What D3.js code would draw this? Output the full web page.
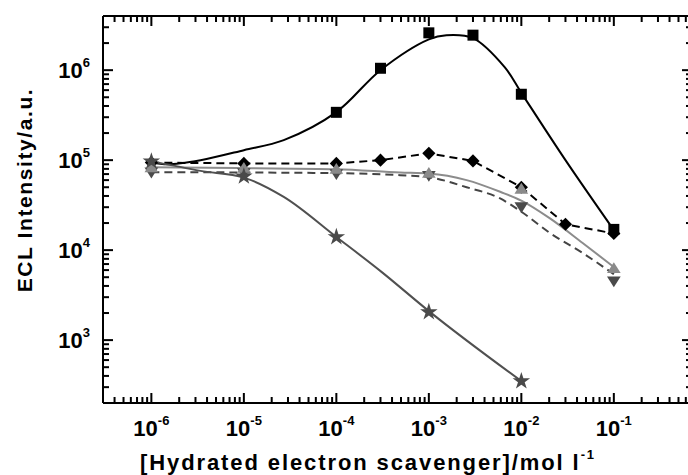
<!DOCTYPE html>
<html>
<head>
<meta charset="utf-8">
<script src="https://cdn.jsdelivr.net/npm/d3@7"></script>
<style>
  html, body { margin: 0; padding: 0; background: #fff; }
  svg { display: block; }
  text { font-family: "Liberation Sans", Arial, Helvetica, sans-serif; font-weight: bold; fill: #000; }
</style>
</head>
<body>
<svg id="chart" width="688" height="475"></svg>
<script>
// ---------------- data ----------------
const xTickExps = [-6, -5, -4, -3, -2, -1];
const yTickExps = [3, 4, 5, 6];

// black squares + solid black fitted curve
const sqX = [1e-4, 3e-4, 1e-3, 3e-3, 1e-2, 1e-1];
const sqY = [3.4e5, 1.05e6, 2.6e6, 2.45e6, 5.4e5, 1.7e4];
const sqFitX = [1e-6, 1.5e-6, 3.4e-6, 1e-5, 2.7e-5, 1e-4, 3e-4, 1e-3, 1.55e-3, 3e-3, 6.6e-3, 1e-2, 3e-2, 1e-1];
const sqFitY = [9.5e4, 9.0e4, 1.0e5, 1.29e5, 1.67e5, 3.42e5, 1.0e6, 2.2e6, 2.45e6, 2.27e6, 1.08e6, 5.6e5, 1.0e5, 1.67e4];

// black diamonds + dashed black line
const dmX = [1e-6, 1e-5, 1e-4, 3e-4, 1e-3, 3e-3, 1e-2, 3e-2, 1e-1];
const dmY = [9.4e4, 9.2e4, 9.2e4, 1.0e5, 1.19e5, 9.8e4, 5.0e4, 1.94e4, 1.53e4];

// grey up-triangles + solid grey fitted curve
const upX = [1e-6, 1e-5, 1e-4, 1e-3, 1e-2, 1e-1];
const upY = [8.3e4, 8.2e4, 8.0e4, 7.2e4, 4.8e4, 6.3e3];
const upFitX = [1e-6, 1e-5, 1e-4, 4.9e-4, 1e-3, 2.56e-3, 5.9e-3, 1e-2, 2.04e-2, 4.6e-2, 1e-1];
const upFitY = [8.36e4, 8.15e4, 7.94e4, 7.3e4, 7.1e4, 6.0e4, 4.45e4, 3.55e4, 2.25e4, 1.2e4, 6.5e3];

// dark grey down-triangles + dashed dark grey fitted curve
const dnX = [1e-6, 1e-5, 1e-4, 1e-3, 1e-2, 1e-1];
const dnY = [7.3e4, 7.2e4, 7.0e4, 6.7e4, 3.0e4, 4.5e3];
const dnFitX = [1e-6, 1e-4, 4.9e-4, 1e-3, 2.56e-3, 5.9e-3, 1e-2, 2.04e-2, 4.6e-2, 1e-1];
const dnFitY = [7.36e4, 7.17e4, 6.8e4, 6.47e4, 5.0e4, 3.75e4, 2.67e4, 1.55e4, 9.3e3, 5.4e3];

// dark grey stars + solid dark grey fitted curve
const stX = [1e-6, 1e-5, 1e-4, 1e-3, 1e-2];
const stY = [9.7e4, 6.6e4, 1.4e4, 2.05e3, 350];
const stFitX = [1e-6, 3.4e-6, 1e-5, 2.7e-5, 1e-4, 3.1e-4, 1e-3, 1e-2];
const stFitY = [9.75e4, 7.6e4, 6.4e4, 3.9e4, 1.4e4, 5.7e3, 2.1e3, 350];

// ---------------- layout ----------------
const svg = d3.select("#chart");
svg.append("rect").attr("width", 688).attr("height", 475).attr("fill", "#fff");

const L = 103, R = 692, T = 16, B = 403;
const x = d3.scaleLog().domain([3e-7, 0.7]).range([L, R]);
const y = d3.scaleLog().domain([200, 4e6]).range([B, T]);

// frame
svg.append("line").attr("x1", L).attr("x2", R).attr("y1", B).attr("y2", B).attr("stroke", "#000").attr("stroke-width", 2);
svg.append("line").attr("x1", L).attr("x2", R).attr("y1", T).attr("y2", T).attr("stroke", "#000").attr("stroke-width", 2);
svg.append("line").attr("x1", L).attr("x2", L).attr("y1", T).attr("y2", B).attr("stroke", "#000").attr("stroke-width", 2);
svg.append("line").attr("x1", R).attr("x2", R).attr("y1", T).attr("y2", B).attr("stroke", "#000").attr("stroke-width", 2);

// tick labels
xTickExps.forEach(e => {
  const t = svg.append("text").attr("x", x(Math.pow(10, e))).attr("y", 436)
    .attr("text-anchor", "middle").attr("font-size", 22);
  t.append("tspan").text("10");
  t.append("tspan").attr("dy", -11).attr("font-size", 13).text(String(e));
});
yTickExps.forEach(e => {
  const t = svg.append("text").attr("x", 90).attr("y", y(Math.pow(10, e)) + 8)
    .attr("text-anchor", "end").attr("font-size", 22);
  t.append("tspan").text("10");
  t.append("tspan").attr("dy", -11).attr("font-size", 13).text(String(e));
});

// axis titles
const xt1 = svg.append("text").attr("x", 368).attr("y", 470).attr("text-anchor", "middle")
  .attr("font-size", 22).attr("letter-spacing", 1.9);
xt1.append("tspan").text("[Hydrated electron scavenger]/mol l");
xt1.append("tspan").attr("dy", -11).attr("font-size", 13).text("-1");

svg.append("text").attr("transform", "translate(32,190) rotate(-90)")
  .attr("text-anchor", "middle").attr("font-size", 21).attr("letter-spacing", 1.6)
  .text("ECL Intensity/a.u.");

// ---------------- lines ----------------
const lineGen = d3.line().x(d => x(d[0])).y(d => y(d[1])).curve(d3.curveMonotoneX);
const smoothGen = d3.line().x(d => x(d[0])).y(d => y(d[1])).curve(d3.curveCatmullRom.alpha(0.5));
const zip = (a, b) => a.map((v, i) => [v, b[i]]);

const plot = svg.append("g");
plot.append("path").attr("d", smoothGen(zip(sqFitX, sqFitY)))
  .attr("fill", "none").attr("stroke", "#000").attr("stroke-width", 2);
plot.append("path").attr("d", d3.line().x(d => x(d[0])).y(d => y(d[1]))(zip(dmX, dmY)))
  .attr("fill", "none").attr("stroke", "#000").attr("stroke-width", 2).attr("stroke-dasharray", "8,5");
plot.append("path").attr("d", lineGen(zip(upFitX, upFitY)))
  .attr("fill", "none").attr("stroke", "#8c8c8c").attr("stroke-width", 2);
plot.append("path").attr("d", lineGen(zip(dnFitX, dnFitY)))
  .attr("fill", "none").attr("stroke", "#444").attr("stroke-width", 2).attr("stroke-dasharray", "8,5");
plot.append("path").attr("d", lineGen(zip(stFitX, stFitY)))
  .attr("fill", "none").attr("stroke", "#505050").attr("stroke-width", 2);

// ---------------- markers ----------------
const triUp = { draw(ctx, s) { const r = Math.sqrt(s) / 2; ctx.moveTo(0, -r * 1.05); ctx.lineTo(r * 1.2, r * 0.85); ctx.lineTo(-r * 1.2, r * 0.85); ctx.closePath(); } };
const triDn = { draw(ctx, s) { const r = Math.sqrt(s) / 2; ctx.moveTo(0, r * 1.05); ctx.lineTo(r * 1.2, -r * 0.85); ctx.lineTo(-r * 1.2, -r * 0.85); ctx.closePath(); } };
const diam = { draw(ctx, s) { const r = Math.sqrt(s) / 2; ctx.moveTo(0, -r * 1.2); ctx.lineTo(r * 1.2, 0); ctx.lineTo(0, r * 1.2); ctx.lineTo(-r * 1.2, 0); ctx.closePath(); } };

function markers(xs, ys, type, size, color) {
  plot.append("g").selectAll("path").data(zip(xs, ys)).join("path")
    .attr("transform", d => `translate(${x(d[0])},${y(d[1])})`)
    .attr("d", d3.symbol().type(type).size(size))
    .attr("fill", color);
}
markers(dmX, dmY, diam, 121, "#000");
markers(sqX, sqY, d3.symbolSquare, 121, "#000");
markers(dnX, dnY, triDn, 130, "#4a4a4a");
markers(upX, upY, triUp, 130, "#8a8a8a");
markers(stX, stY, d3.symbolStar, 95, "#4a4a4a");

// ---------------- ticks (drawn last, inward, on all four sides) ----------------
const MAJ = 10, MIN = 6, TW = 2;
const decX = [1e-7, 1e-6, 1e-5, 1e-4, 1e-3, 1e-2, 1e-1];
const decY = [1e2, 1e3, 1e4, 1e5, 1e6];
const mults = [1, 2, 3, 4, 5, 6, 7, 8, 9];
const xTicks = [], yTicks = [];
decX.forEach(b => mults.forEach(m => { const v = m * b; if (v >= 2.99e-7 && v <= 0.701) xTicks.push([v, m === 1 ? MAJ : MIN]); }));
decY.forEach(b => mults.forEach(m => { const v = m * b; if (v >= 199 && v <= 4.01e6) yTicks.push([v, m === 1 ? MAJ : MIN]); }));

svg.selectAll("rect.tb").data(xTicks).join("rect").attr("class", "tb")
  .attr("x", d => x(d[0]) - 1).attr("y", d => B - d[1]).attr("width", TW).attr("height", d => d[1]).attr("fill", "#000");
svg.selectAll("rect.tt").data(xTicks).join("rect").attr("class", "tt")
  .attr("x", d => x(d[0]) - 1).attr("y", T).attr("width", TW).attr("height", d => d[1]).attr("fill", "#000");
svg.selectAll("rect.tl").data(yTicks).join("rect").attr("class", "tl")
  .attr("x", L).attr("y", d => y(d[0]) - 1).attr("width", d => d[1]).attr("height", TW).attr("fill", "#000");
svg.selectAll("rect.tr").data(yTicks).join("rect").attr("class", "tr")
  .attr("x", d => R - d[1]).attr("y", d => y(d[0]) - 1).attr("width", d => d[1]).attr("height", TW).attr("fill", "#000");
</script>
</body>
</html>
